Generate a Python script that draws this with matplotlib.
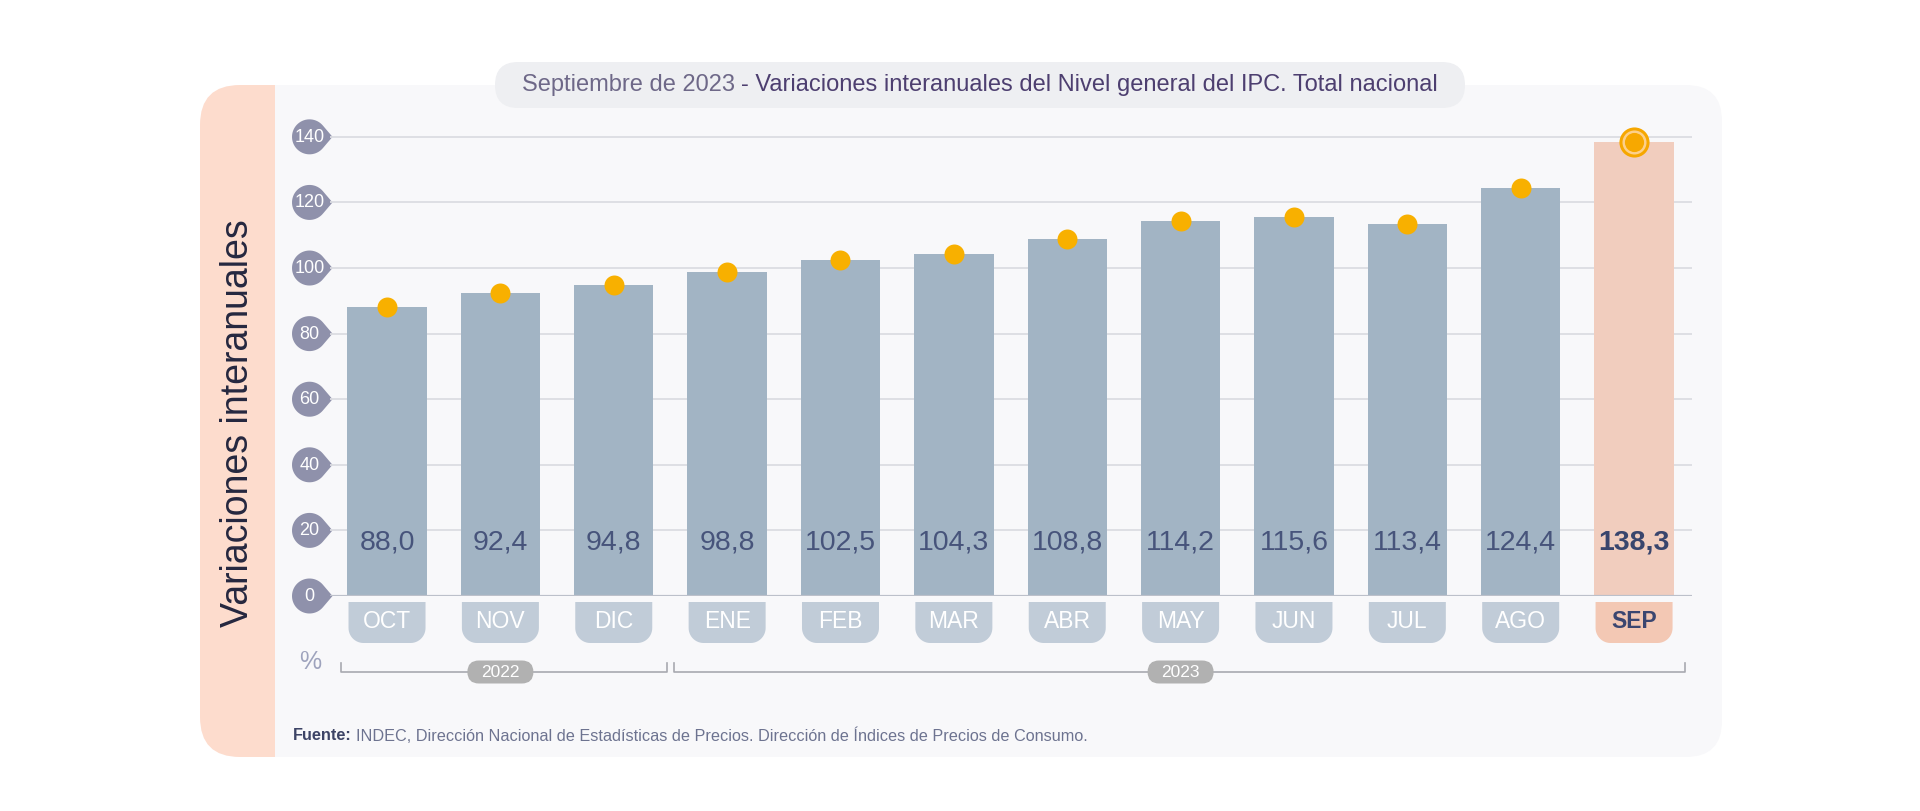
import numpy as np
import matplotlib.pyplot as plt
from matplotlib.patches import FancyBboxPatch, Rectangle, Polygon

plt.rcParams['font.family'] = ['Liberation Sans', 'DejaVu Sans']

months = ["OCT", "NOV", "DIC", "ENE", "FEB", "MAR", "ABR", "MAY", "JUN", "JUL", "AGO", "SEP"]
values = [88.0, 92.4, 94.8, 98.8, 102.5, 104.3, 108.8, 114.2, 115.6, 113.4, 124.4, 138.3]
years = ["2022", "2023"]
months_per_year = [3, 9]
yticks = [0, 20, 40, 60, 80, 100, 120, 140]

title_a = "Septiembre de 2023"
title_b = "- Variaciones interanuales del Nivel general del IPC. Total nacional"
source_a = "Fuente:"
source_b = "INDEC, Dirección Nacional de Estadísticas de Precios. Dirección de Índices de Precios de Consumo."

BAR = "#a2b4c4"
HI_BAR = "#f1cdbe"
PILL = "#c1ccd8"
HI_PILL = "#f3c8b4"
DOT = "#f8b000"
BADGE = "#8f91ab"
VAL = "#47547b"

W, H = 1920, 811
fig = plt.figure(figsize=(W / 100, H / 100), dpi=100)
fig.patch.set_facecolor("white")

# background layer in pixel coordinates (y downwards)
bg = fig.add_axes([0, 0, 1, 1])
bg.set_xlim(0, W)
bg.set_ylim(H, 0)
bg.axis("off")

bg.add_patch(FancyBboxPatch((200, 85), 140, 672, boxstyle="round,pad=0,rounding_size=40",
                            fc="#fddccd", ec="none"))
bg.add_patch(FancyBboxPatch((275, 85), 1447, 672, boxstyle="round,pad=0,rounding_size=36",
                            fc="#f8f8fa", ec="none"))
bg.add_patch(Rectangle((275, 85), 80, 672, fc="#f8f8fa", ec="none"))
bg.add_patch(FancyBboxPatch((495, 62), 970, 46, boxstyle="round,pad=0,rounding_size=23",
                            fc="#eeeff2", ec="none"))

bg.text(238, 423, "Variaciones interanuales", rotation=90, fontsize=27,
        color="#25273f", ha="center", va="center")

# chart
ax = fig.add_axes([330 / W, 215 / H, 1362 / W, 485.4 / H])
ax.patch.set_visible(False)
ax.set_xlim(-0.503, 11.511)
ax.set_ylim(0, 148)
for s in ax.spines.values():
    s.set_visible(False)
ax.set_xticks([])
ax.set_yticks([])

x = np.arange(len(months))
for t in yticks[1:]:
    ax.axhline(t, color="#dcdde2", lw=1.3, zorder=1)
ax.axhline(0, color="#bcc0ca", lw=2.3, zorder=3)

colors = [BAR] * (len(months) - 1) + [HI_BAR]
ax.bar(x, values, width=0.70, color=colors, zorder=2)

for i, v in enumerate(values):
    last = i == len(values) - 1
    ax.text(i, 16.2, f"{v:.1f}".replace(".", ","), ha="center", va="center",
            fontsize=20.5, color="#39456d" if last else VAL,
            fontweight="bold" if last else "normal", zorder=5)

ax.scatter(x[:-1], values[:-1], s=207, color=DOT, zorder=4, clip_on=False, lw=0)
ax.scatter(x[-1:], values[-1:], s=470, color="#f6a700", zorder=4, clip_on=False, lw=0)
ax.scatter(x[-1:], values[-1:], s=300, color="#fdd08a", zorder=4, clip_on=False, lw=0)
ax.scatter(x[-1:], values[-1:], s=190, color="#f7a800", zorder=4, clip_on=False, lw=0)


def px(xv, yv):
    dx, dy = ax.transData.transform((xv, yv))
    return dx, H - dy


# y tick badges
for t in yticks:
    _, cy = px(0, t)
    cx, r, tip = 309.5, 17.5, 23.0
    th = np.arccos(r / tip)
    a = np.linspace(th, 2 * np.pi - th, 50)
    pts = [(cx + r * np.cos(v), cy + r * np.sin(v)) for v in a] + [(cx + tip, cy)]
    bg.add_patch(Polygon(pts, closed=True, fc=BADGE, ec="none"))
    bg.text(cx, cy + 0.5, str(t), ha="center", va="center", fontsize=13, color="white")

# month pills (square top, rounded bottom)
arc = np.linspace(0, np.pi / 2, 14)
for i, m in enumerate(months):
    cx, _ = px(i, 0)
    w, h, r, y0 = 77, 41, 15, 602
    x0 = cx - w / 2
    pts = [(x0, y0), (x0 + w, y0)]
    pts += [(x0 + w - r + r * np.cos(a), y0 + h - r + r * np.sin(a)) for a in arc]
    pts += [(x0 + r + r * np.cos(a), y0 + h - r + r * np.sin(a)) for a in arc + np.pi / 2]
    last = i == len(months) - 1
    bg.add_patch(Polygon(pts, closed=True, fc=HI_PILL if last else PILL, ec="none"))
    bg.text(cx, y0 + 20, m, ha="center", va="center", fontsize=16.5,
            color="#3b4670" if last else "white", fontweight="bold" if last else "normal")

bg.text(310, 662, "%", ha="center", va="center", fontsize=18, color="#9ea3bd")

# year brackets
start = 0
yb = 672
for yr, n in zip(years, months_per_year):
    left = px(start - 0.41 if start == 0 else start - 0.47, 0)[0]
    end = start + n - 1
    right = px(end + 0.47 if end < len(months) - 1 else end + 0.45, 0)[0]
    bg.plot([left, left, right, right], [yb - 9, yb, yb, yb - 9], color="#a8a9b0", lw=1.2)
    mid = px(start + (n - 1) / 2, 0)[0]
    bg.add_patch(FancyBboxPatch((mid - 33, yb - 11.5), 66, 23,
                                boxstyle="round,pad=0,rounding_size=11.5",
                                fc="#b1b1b1", ec="none", zorder=3))
    bg.text(mid, yb + 0.5, yr, ha="center", va="center", fontsize=12.5, color="white", zorder=4)
    start += n

# title in two colours
rend = fig.canvas.get_renderer()
ta = bg.text(0, 85, title_a, ha="left", va="center", fontsize=17, color="#6e6888")
tb = bg.text(0, 85, title_b, ha="left", va="center", fontsize=17, color="#4d3f70")
wa = ta.get_window_extent(rend).width
wb = tb.get_window_extent(rend).width
gap = 6
x_start = 980 - (wa + gap + wb) / 2
ta.set_x(x_start)
tb.set_x(x_start + wa + gap)

# source note
sa = bg.text(293, 736, source_a, ha="left", va="center", fontsize=11.7,
             color="#3d4466", fontweight="bold")
wsa = sa.get_window_extent(rend).width
bg.text(293 + wsa + 4, 736, source_b, ha="left", va="center", fontsize=11.7, color="#6d7390")

fig.savefig("out.png", dpi=100)
